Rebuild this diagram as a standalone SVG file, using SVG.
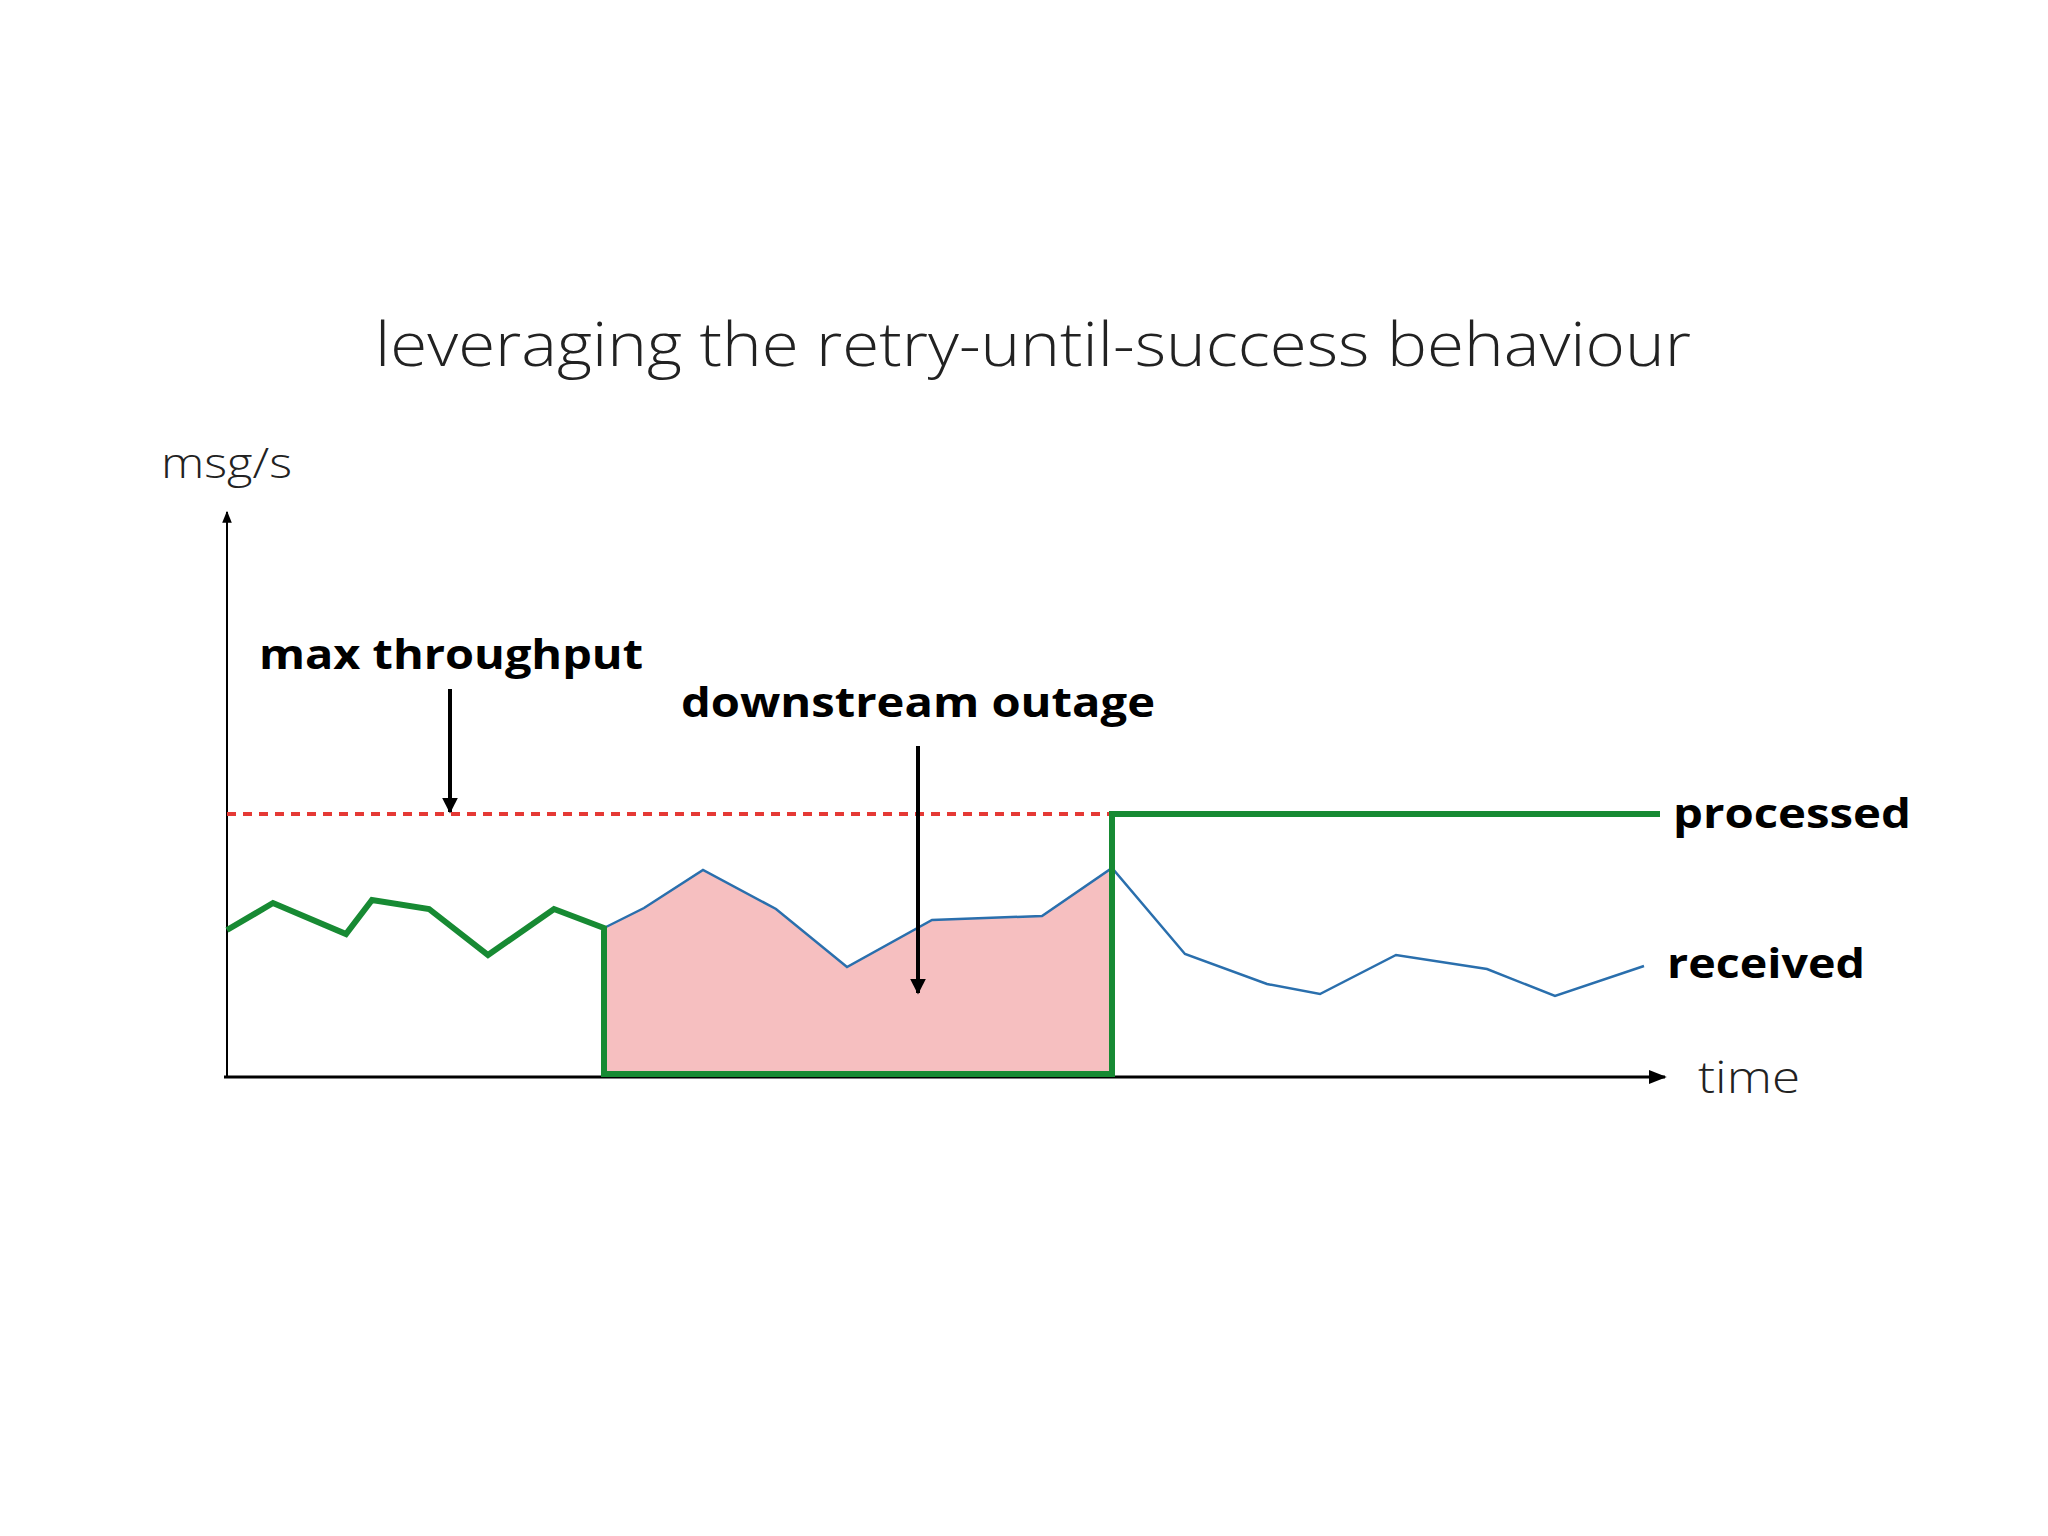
<svg xmlns="http://www.w3.org/2000/svg" width="2048" height="1536" viewBox="0 0 2048 1536">
<defs>
<style>
.t{font-family:"Open Sans","Liberation Sans",sans-serif;fill:#222}
.b{font-family:"Open Sans","Liberation Sans",sans-serif;font-weight:700;fill:#000;font-size:42px}
</style>
<marker id="ah" viewBox="0 0 10 10" refX="9" refY="5" markerWidth="4" markerHeight="4" orient="auto"><path d="M0,0L10,5L0,10z" fill="#000"/></marker>
<marker id="sa" viewBox="0 0 10 10" refX="9" refY="5" markerWidth="6" markerHeight="6" orient="auto"><path d="M0,1L10,5L0,9z" fill="#000"/></marker>
</defs>
<rect width="2048" height="1536" fill="#fff"/>
<text class="t" x="1033" y="366" font-size="60" font-weight="300" text-anchor="middle" textLength="1316" lengthAdjust="spacingAndGlyphs">leveraging the retry-until-success behaviour</text>
<text class="t" x="161" y="478" font-size="42" font-weight="300" textLength="131" lengthAdjust="spacingAndGlyphs" fill="#444">msg/s</text>
<text class="t" x="1698" y="1093" font-size="44" font-weight="300" textLength="102" lengthAdjust="spacingAndGlyphs" fill="#444">time</text>
<g id="fill"><polygon points="604,928 644,908 703,870 776,909 847,967 932,920 1042,916 1112,868 1112,1074 604,1074" fill="#f6bfc0"/></g>
<g id="connectors">
<line x1="227" y1="1077" x2="227" y2="512" stroke="#000" stroke-width="2" marker-end="url(#sa)"/>
<line x1="224" y1="1077" x2="1665" y2="1077" stroke="#000" stroke-width="3" marker-end="url(#sa)"/>
<line x1="227" y1="814" x2="1112" y2="814" stroke="#e53935" stroke-width="4" stroke-dasharray="9,7"/>
<polyline points="604,928 644,908 703,870 776,909 847,967 932,920 1042,916 1112,868 1185,954 1267,984 1320,994 1396,955 1487,969 1555,996 1644,966" fill="none" stroke="#2a6fad" stroke-width="2.5"/>
<polyline points="227,930 273,903 346,934 372,900 429,909 488,955 554,909 604,928 604,1074 1112,1074 1112,814 1660,814" fill="none" stroke="#178a33" stroke-width="6"/>
<line x1="450" y1="689" x2="450" y2="812" stroke="#000" stroke-width="4" marker-end="url(#ah)"/>
<line x1="918" y1="746" x2="918" y2="993" stroke="#000" stroke-width="4" marker-end="url(#ah)"/>
</g>
<g id="labels">
<text class="b" x="259" y="669" textLength="384" lengthAdjust="spacingAndGlyphs">max throughput</text>
<text class="b" x="681" y="717" textLength="474" lengthAdjust="spacingAndGlyphs">downstream outage</text>
<text class="b" x="1673" y="828" textLength="238" lengthAdjust="spacingAndGlyphs">processed</text>
<text class="b" x="1667" y="978" textLength="198" lengthAdjust="spacingAndGlyphs">received</text>
</g>
</svg>
